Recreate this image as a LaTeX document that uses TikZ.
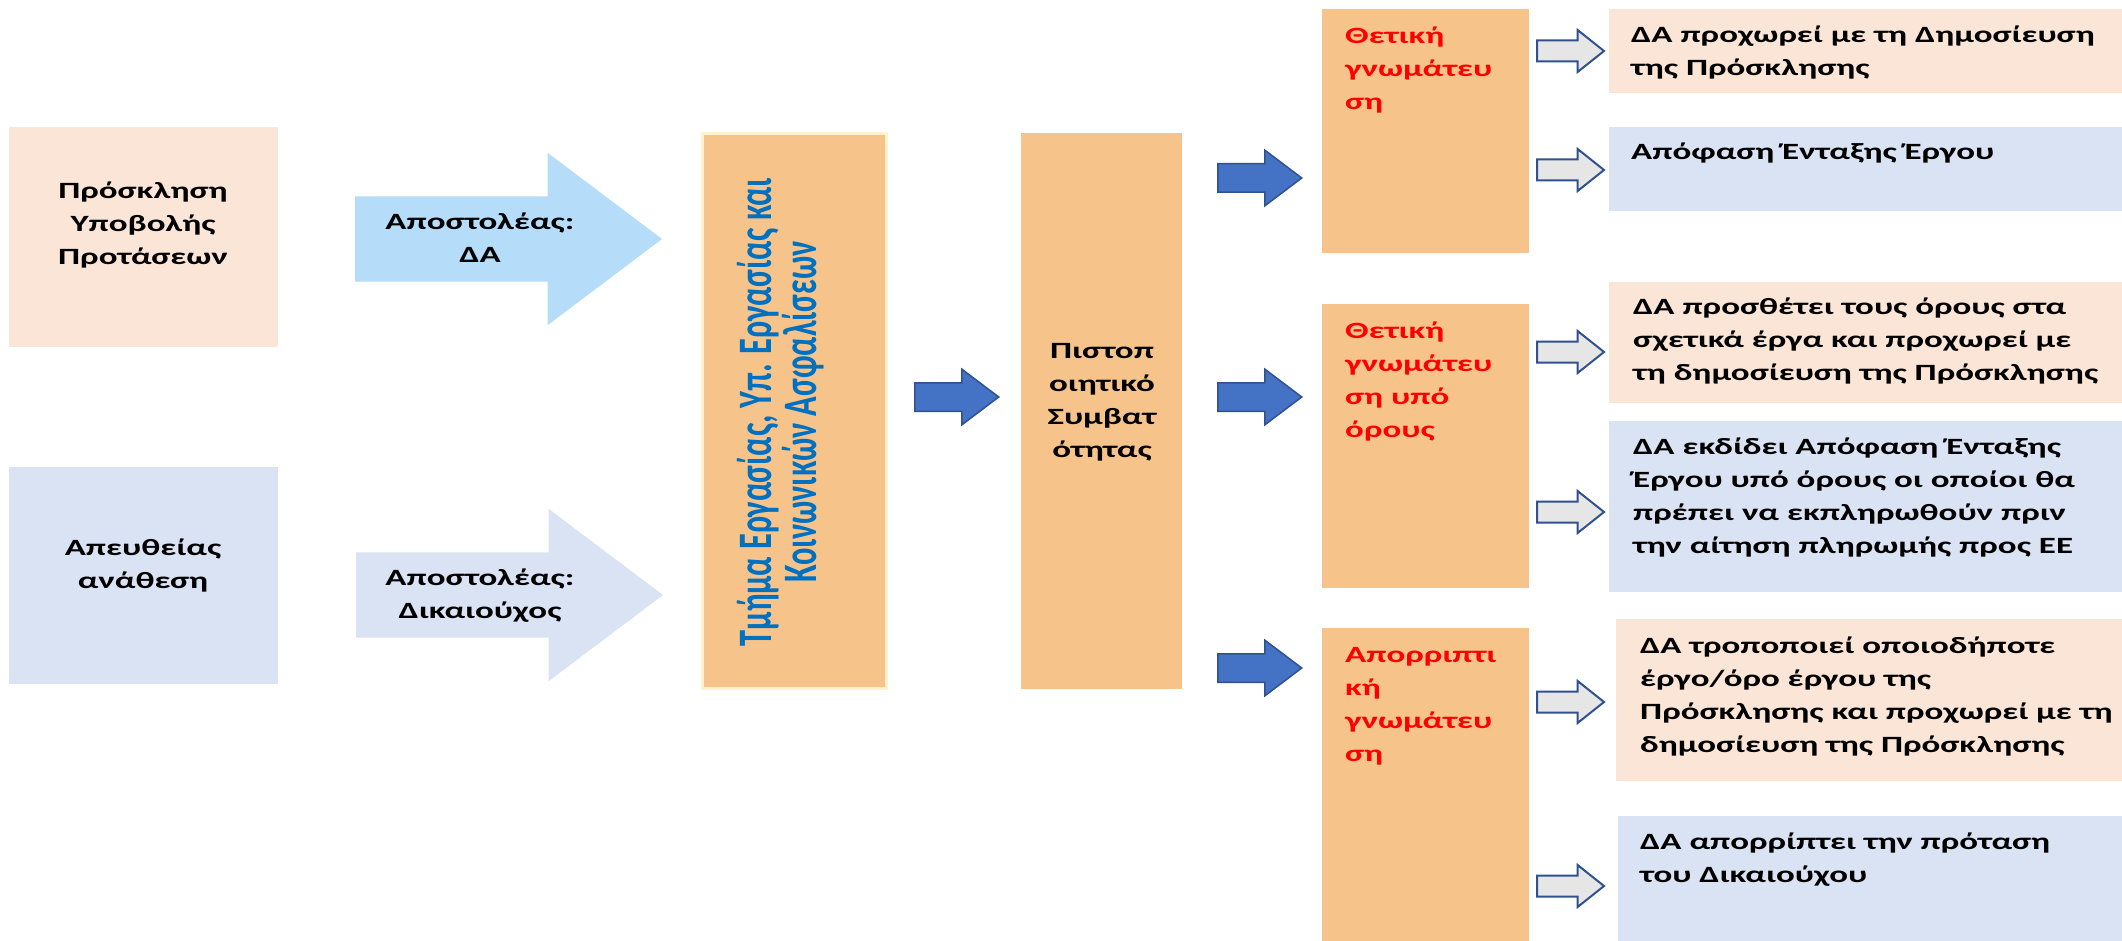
\documentclass[tikz,border=0pt]{standalone}
\usepackage{fontspec}
\setmainfont{Carlito}
\newfontfamily\widefont{Carlito}[FakeStretch=1.5]
\newfontfamily\narrowfont{Carlito}[FakeStretch=0.675]
\usetikzlibrary{shapes.arrows}

\definecolor{callpink}{HTML}{FBE5D6}
\definecolor{greyblue}{HTML}{DAE3F3}
\definecolor{boxorange}{HTML}{F6C48B}
\definecolor{skyarrow}{HTML}{B5DDFA}
\definecolor{arrowblue}{HTML}{4472C4}
\definecolor{arrowedge}{HTML}{2F528F}
\definecolor{arrowgrey}{HTML}{E7E6E6}
\definecolor{deptblue}{HTML}{0070C0}
\definecolor{edgeyellow}{HTML}{FFF2CC}

\tikzset{
  box/.style={rectangle, inner sep=0pt, outer sep=0pt, anchor=north west},
  txt/.style={inner sep=0pt, align=center, font=\widefont\bfseries\fontsize{23.3}{33}\selectfont},
  lefttxt/.style={txt, align=left, anchor=base west},
  redtxt/.style={lefttxt, text=red},
  bigarrow/.style={single arrow, anchor=tail, inner xsep=0pt, inner ysep=42.5pt, outer sep=0pt,
    single arrow tip angle=74, minimum height=307pt,
    single arrow head extend=43.5pt},
  bluearrow/.style={single arrow, anchor=tail, draw=arrowedge, line width=1.5pt,
    fill=arrowblue, inner xsep=0pt, inner ysep=13.5pt, single arrow tip angle=74,
    minimum height=84pt, single arrow head extend=13.5pt},
  greyarrow/.style={single arrow, anchor=tail, draw=arrowedge, line width=2pt,
    fill=arrowgrey, inner xsep=0pt, inner ysep=9.5pt, single arrow tip angle=77,
    minimum height=67pt, single arrow head extend=10.5pt}
}

\begin{document}
\begin{tikzpicture}[x=1pt,y=-1pt]

\fill [white] (0,0) rectangle (2122,941);
\useasboundingbox (0,0) rectangle (2122,941);

\node[box, fill=callpink, minimum width=269pt, minimum height=220pt] (call) at (9,127) {};
\node[box, fill=greyblue, minimum width=269pt, minimum height=217pt] (direct) at (9,467) {};
\node[box, fill=boxorange, draw=edgeyellow, line width=3pt, minimum width=184pt, minimum height=555pt] (dept) at (702.5,133.5) {};
\node[box, fill=boxorange, minimum width=161pt, minimum height=556pt] (cert) at (1021,133) {};
\node[box, fill=boxorange, minimum width=207pt, minimum height=244pt] (pos) at (1322,9) {};
\node[box, fill=boxorange, minimum width=207pt, minimum height=284pt] (cond) at (1322,304) {};
\node[box, fill=boxorange, minimum width=207pt, minimum height=313pt] (neg) at (1322,628) {};
\node[box, fill=callpink, minimum width=513pt, minimum height=84pt] (publish) at (1609,9) {};
\node[box, fill=greyblue, minimum width=513pt, minimum height=84pt] (include) at (1609,127) {};
\node[box, fill=callpink, minimum width=513pt, minimum height=121pt] (addterms) at (1609,282) {};
\node[box, fill=greyblue, minimum width=513pt, minimum height=171pt] (condincl) at (1609,421) {};
\node[box, fill=callpink, minimum width=506pt, minimum height=162pt] (modify) at (1616,619) {};
\node[box, fill=greyblue, minimum width=504pt, minimum height=125pt] (reject) at (1618,816) {};

\node[bigarrow, fill=skyarrow] (sendda) at (355,239) {};
\node[bigarrow, fill=greyblue] (sendbenef) at (356,595) {};
\node[bluearrow] (tocert) at (914,397) {};
\node[bluearrow] (topos) at (1217,178) {};
\node[bluearrow] (tocond) at (1217,397) {};
\node[bluearrow] (toneg) at (1217,668) {};
\node[greyarrow] (topublish) at (1536,51) {};
\node[greyarrow] (toinclude) at (1536,170) {};
\node[greyarrow] (toaddterms) at (1536,352) {};
\node[greyarrow] (tocondincl) at (1536,512) {};
\node[greyarrow] (tomodify) at (1536,702) {};
\node[greyarrow] (toreject) at (1536,886) {};

\node[txt, anchor=base] (callname) at (143,265) {Πρόσκληση\\Υποβολής\\Προτάσεων};
\node[txt, anchor=base] (directname) at (143,588) {Απευθείας\\ανάθεση};
\node[txt, anchor=base] (fromda) at (480,263) {Αποστολέας:\\ΔΑ};
\node[txt, anchor=base] (frombenef) at (480,618) {Αποστολέας:\\Δικαιούχος};
\node[rotate=90, inner sep=0pt, align=center, text=deptblue,
  font=\narrowfont\bfseries\fontsize{48}{45}\selectfont] (deptname) at (781,412)
  {Τμήμα Εργασίας, Υπ. Εργασίας και\\Κοινωνικών Ασφαλίσεων};
\node[txt, anchor=base] (certname) at (1102,457) {Πιστοπ\\οιητικό\\Συμβατ\\ότητας};

\node[redtxt] (posname) at (1345,110) {Θετική\\γνωμάτευ\\ση};
\node[redtxt] (condname) at (1345,437) {Θετική\\γνωμάτευ\\ση υπό\\όρους};
\node[redtxt] (negname) at (1345,761) {Απορριπτι\\κή\\γνωμάτευ\\ση};

\node[lefttxt] (publishtxt) at (1631,76) {ΔΑ προχωρεί με τη Δημοσίευση\\της Πρόσκλησης};
\node[lefttxt] (includetxt) at (1631,160) {Απόφαση Ένταξης Έργου};
\node[lefttxt] (addtermstxt) at (1633,380) {ΔΑ προσθέτει τους όρους στα\\σχετικά έργα και προχωρεί με\\τη δημοσίευση της Πρόσκλησης};
\node[lefttxt] (condincltxt) at (1633,553) {ΔΑ εκδίδει Απόφαση Ένταξης\\Έργου υπό όρους οι οποίοι θα\\πρέπει να εκπληρωθούν πριν\\την αίτηση πληρωμής προς ΕΕ};
\node[lefttxt] (modifytxt) at (1640,752) {ΔΑ τροποποιεί οποιοδήποτε\\έργο/όρο έργου της\\Πρόσκλησης και προχωρεί με τη\\δημοσίευση της Πρόσκλησης};
\node[lefttxt] (rejecttxt) at (1640,882) {ΔΑ απορρίπτει την πρόταση\\του Δικαιούχου};

\end{tikzpicture}
\end{document}
